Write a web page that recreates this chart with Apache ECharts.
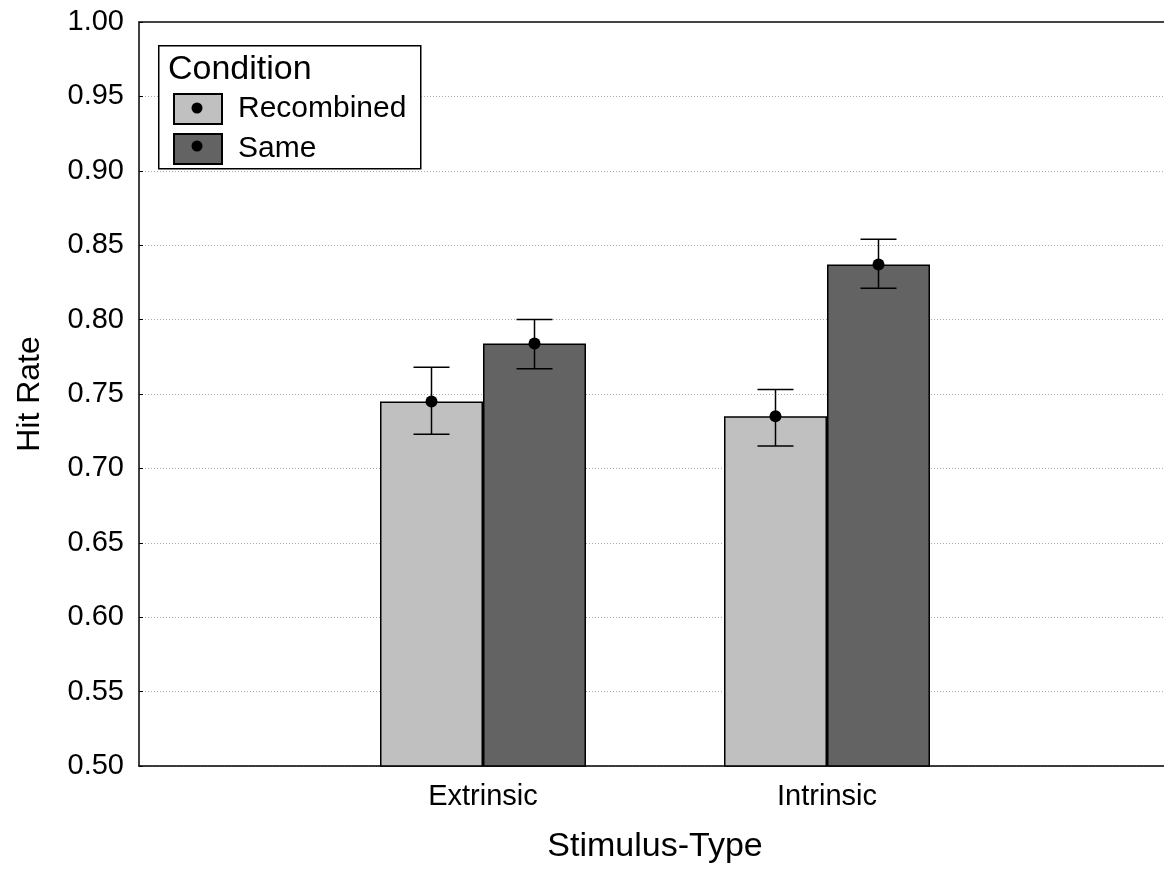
<!DOCTYPE html>
<html>
<head>
<meta charset="utf-8">
<script src="https://cdn.jsdelivr.net/npm/echarts@6/dist/echarts.min.js"></script>
<style>html,body{margin:0;padding:0;background:#fff;overflow:hidden;}#c{width:1164px;height:873px;}</style>
</head>
<body>
<div id="c"></div>
<script>
// Data
var categories = ['', 'Extrinsic', 'Intrinsic', ''];
var seriesNames = ['Recombined', 'Same'];
var recombinedMean = [null, 0.745, 0.735, null];
var recombinedLow  = [null, 0.723, 0.715, null];
var recombinedHigh = [null, 0.768, 0.753, null];
var sameMean = [null, 0.784, 0.837, null];
var sameLow  = [null, 0.767, 0.821, null];
var sameHigh = [null, 0.800, 0.854, null];
var yTicks = ['0.50','0.55','0.60','0.65','0.70','0.75','0.80','0.85','0.90','0.95','1.00'];

var BAR_W = 103;
var FONT = 'Liberation Sans, Arial, sans-serif';

function errData(mean, low, high) {
  var out = [];
  for (var i = 0; i < mean.length; i++) {
    if (mean[i] != null) out.push([i, low[i], high[i], mean[i]]);
  }
  return out;
}

function errRender(offset) {
  return function (params, api) {
    var idx = api.value(0);
    var lo = api.coord([idx, api.value(1)]);
    var hi = api.coord([idx, api.value(2)]);
    var mid = api.coord([idx, api.value(3)]);
    var x = lo[0] + offset;
    var cap = 18;
    var st = { stroke: '#000', lineWidth: 1.5 };
    return {
      type: 'group',
      children: [
        { type: 'line', shape: { x1: x, y1: hi[1], x2: x, y2: lo[1] }, style: st },
        { type: 'line', shape: { x1: x - cap, y1: hi[1], x2: x + cap, y2: hi[1] }, style: st },
        { type: 'line', shape: { x1: x - cap, y1: lo[1], x2: x + cap, y2: lo[1] }, style: st },
        { type: 'circle', shape: { cx: x, cy: mid[1], r: 6 }, style: { fill: '#000' } }
      ]
    };
  };
}

var chart = echarts.init(document.getElementById('c'));
chart.setOption({
  animation: false,
  backgroundColor: '#fff',
  textStyle: { fontFamily: FONT },
  grid: { left: 139, top: 22, width: 1032, height: 744, containLabel: false, outerBoundsMode: 'none' },
  legend: {
    data: seriesNames,
    orient: 'vertical',
    left: 173, top: 93,
    icon: 'rect',
    itemWidth: 48, itemHeight: 30, itemGap: 8,
    z: 50,
    textStyle: { fontSize: 30, color: '#000', fontFamily: FONT, padding: [0, 0, 0, 11] },
    padding: 0
  },
  xAxis: [{
    type: 'category',
    data: categories,
    boundaryGap: false,
    axisLine: { lineStyle: { color: '#000', width: 1.5 } },
    axisTick: { show: false },
    axisLabel: { fontSize: 29, color: '#000', margin: 16, fontFamily: FONT },
    splitLine: { show: false },
    name: 'Stimulus-Type',
    nameLocation: 'middle',
    nameGap: 64,
    nameTextStyle: { fontSize: 34, color: '#000', fontFamily: FONT, verticalAlign: 'top' }
  }, {
    type: 'category',
    position: 'top',
    data: categories,
    boundaryGap: false,
    axisLine: { show: true, lineStyle: { color: '#444', width: 2 } },
    axisTick: { show: false },
    axisLabel: { show: false }
  }],
  yAxis: {
    type: 'value',
    min: 0.5, max: 1.0, interval: 0.05,
    axisLine: { show: true, lineStyle: { color: '#000', width: 1.5 } },
    axisTick: { show: true, inside: true, length: 4, lineStyle: { color: '#000' } },
    axisLabel: {
      fontSize: 29, color: '#000', margin: 15, fontFamily: FONT,
      formatter: function (v) {
        var i = Math.round((v - 0.5) / 0.05);
        return yTicks[i] != null ? yTicks[i] : v.toFixed(2);
      }
    },
    splitLine: { show: true, lineStyle: { color: '#aaa', type: [1, 2], width: 1 } },
    name: 'Hit Rate',
    nameLocation: 'middle',
    nameGap: 93,
    nameTextStyle: { fontSize: 32, color: '#000', fontFamily: FONT }
  },
  series: [{
    name: seriesNames[0],
    type: 'bar',
    data: recombinedMean,
    barWidth: BAR_W,
    barGap: '0%',
    itemStyle: { color: '#c0c0c0', borderColor: '#000', borderWidth: 1.5 }
  }, {
    name: seriesNames[1],
    type: 'bar',
    data: sameMean,
    barWidth: BAR_W,
    barGap: '0%',
    itemStyle: { color: '#636363', borderColor: '#000', borderWidth: 1.5 }
  }, {
    type: 'custom',
    renderItem: errRender(-BAR_W / 2),
    data: errData(recombinedMean, recombinedLow, recombinedHigh),
    encode: { x: 0, y: [1, 2] },
    z: 10
  }, {
    type: 'custom',
    renderItem: errRender(BAR_W / 2),
    data: errData(sameMean, sameLow, sameHigh),
    encode: { x: 0, y: [1, 2] },
    z: 10
  }],
  graphic: [
    { type: 'rect', left: 158, top: 45, z: 1, shape: { width: 262, height: 123 },
      style: { fill: '#fff', stroke: '#000', lineWidth: 1.5 } },
    { type: 'text', left: 168, top: 53, z: 2, style: { text: 'Condition', fontSize: 34, fill: '#000', fontFamily: FONT } },
    { type: 'circle', shape: { cx: 197, cy: 108, r: 5.5 }, style: { fill: '#000' }, z: 200 },
    { type: 'circle', shape: { cx: 197, cy: 146, r: 5.5 }, style: { fill: '#000' }, z: 200 }
  ]
});
</script>
</body>
</html>
